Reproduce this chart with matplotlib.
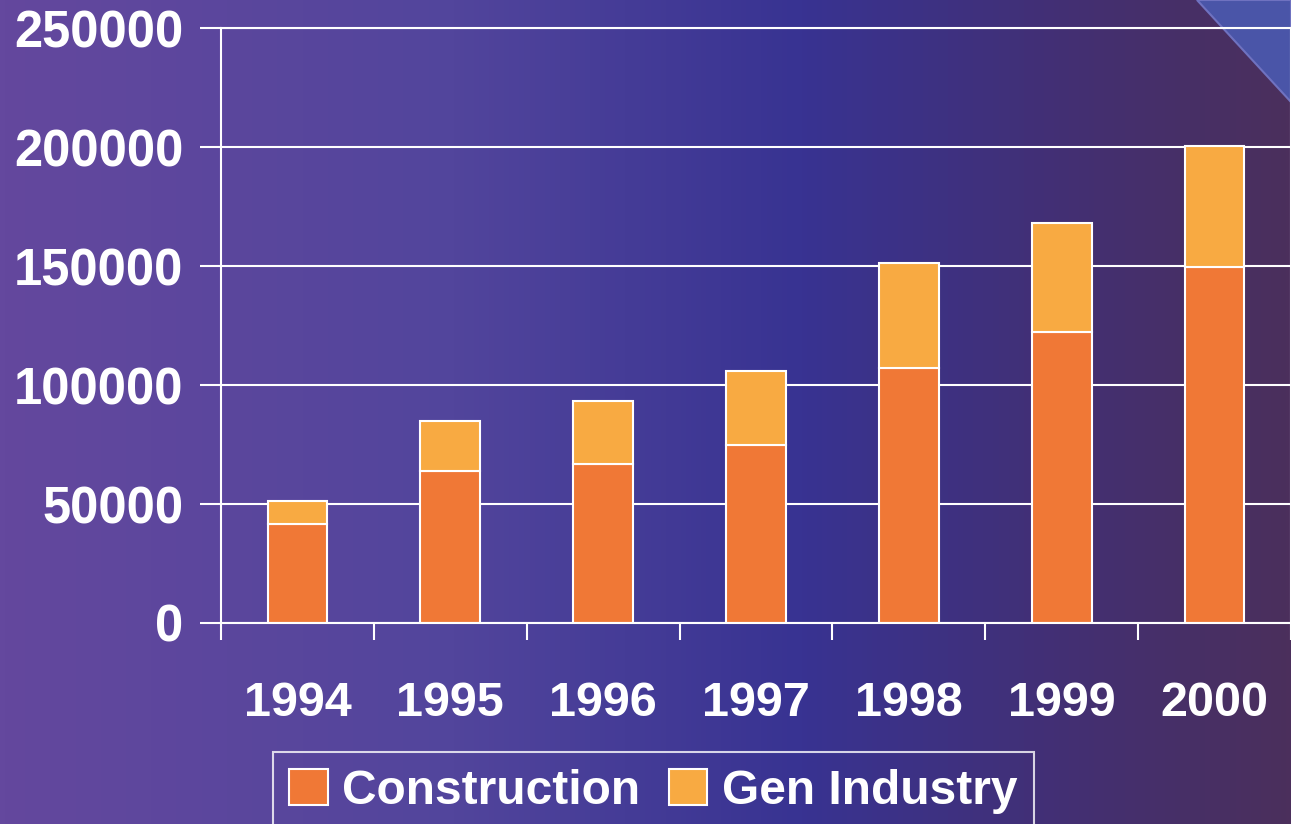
import numpy as np
from matplotlib import pyplot as plt
from matplotlib.colors import LinearSegmentedColormap
from matplotlib.patches import Polygon

years = ['1994', '1995', '1996', '1997', '1998', '1999', '2000']
construction = [41600, 63900, 66800, 74800, 107100, 122300, 149600]
gen_industry = [9700, 21000, 26500, 31100, 44200, 45800, 50800]
y_ticks = [0, 50000, 100000, 150000, 200000, 250000]

plt.rcParams['font.family'] = ['Liberation Sans', 'DejaVu Sans']
plt.rcParams['font.weight'] = 'bold'

fig = plt.figure(figsize=(12.91, 8.24), dpi=100)

# background gradient
bg = fig.add_axes([0, 0, 1, 1], zorder=0)
cmap = LinearSegmentedColormap.from_list('bg', [
    (0.0, '#64489e'), (0.35, '#52459c'), (0.62, '#383392'),
    (0.85, '#442f70'), (1.0, '#4b2f5c')])
bg.imshow(np.linspace(0, 1, 256).reshape(1, -1), cmap=cmap, aspect='auto',
          extent=[0, 1, 0, 1])
bg.add_patch(Polygon([[1197/1291, 1], [1, 1], [1, 1-102/824]], closed=True,
                     facecolor='#4a55a8', edgecolor='#6f72c0', lw=1.5))
bg.set_xlim(0, 1)
bg.set_ylim(0, 1)
bg.axis('off')

ax = fig.add_axes([221/1291, 1-623/824, 1070/1291, 595/824], zorder=1)
ax.patch.set_alpha(0)

x = np.arange(len(years))
ax.set_axisbelow(True)
ax.yaxis.grid(True, color='white', lw=1.5)
ax.bar(x, construction, width=0.39, color='#f07836', edgecolor='white',
       lw=1.5, label='Construction')
ax.bar(x, gen_industry, width=0.39, bottom=construction, color='#f8aa42',
       edgecolor='white', lw=1.5, label='Gen Industry')

ax.set_xlim(-0.5, len(years)-0.5)
ax.set_ylim(0, 250000)
ax.set_yticks(y_ticks)
ax.set_yticklabels([str(v) for v in y_ticks], fontsize=36.5, fontweight='bold',
                   color='white')
ax.tick_params(axis='y', length=15, width=1.5, color='white', pad=12)
ax.set_xticks(x)
ax.set_xticklabels(years, fontsize=35, fontweight='bold', color='white')
ax.tick_params(axis='x', which='major', length=0, pad=42)
ax.set_xticks(np.arange(len(years)+1)-0.5, minor=True)
ax.tick_params(axis='x', which='minor', length=12, width=1.5, color='white')
for s in ax.spines.values():
    s.set_color('white')
    s.set_linewidth(1.5)

leg = fig.legend(loc='upper center', bbox_to_anchor=(0.506, 1-752/824), ncol=2,
                 frameon=True, fancybox=False, edgecolor='white',
                 facecolor='none', handlelength=0.8, handleheight=0.8,
                 handletextpad=0.3, columnspacing=0.6, borderpad=0.35,
                 borderaxespad=0, prop={'size': 34.5, 'weight': 'bold'})
for t in leg.get_texts():
    t.set_color('white')
leg.get_frame().set_linewidth(1.5)

plt.savefig('out.png', dpi=100)
